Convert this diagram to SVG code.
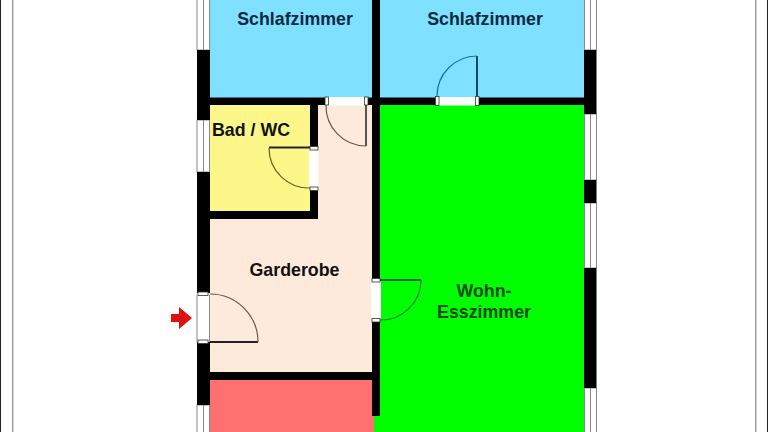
<svg xmlns="http://www.w3.org/2000/svg" width="768" height="432" viewBox="0 0 768 432">
<style>
.w{fill:#000}
.win{fill:#fff;stroke:#888;stroke-width:1}
.o{fill:#fff}
.j{fill:#fff;stroke:#333;stroke-width:.8}
.t{font-family:"Liberation Sans",Arial,sans-serif;font-weight:700;font-size:17.800px;text-anchor:middle}
.s{fill:none;stroke-width:1.2}
</style>
<rect width="768" height="432" fill="#fff"/>
<g id="frame">
<rect x="0" y="0" width="1" height="432" fill="#222"/>
<rect x="12" y="0" width="1.4" height="432" fill="#999"/>
<rect x="755" y="0" width="1.4" height="432" fill="#999"/>
<rect x="767" y="0" width="1" height="432" fill="#222"/>
</g>
<g id="rooms">
<rect x="210" y="0" width="163" height="98" fill="#80e0ff"/>
<rect x="379" y="0" width="206" height="98" fill="#80e0ff"/>
<rect x="209" y="104" width="102" height="108" fill="#fdf78a"/>
<path d="M317 104H373V373H209V218H317Z" fill="#fdeadb"/>
<rect x="209" y="379" width="166" height="53" fill="#ff7070"/>
<rect x="379" y="104" width="206" height="328" fill="#00ff00"/>
<rect x="374" y="415" width="6" height="17" fill="#00ff00"/>
</g>
<g id="windows">
<rect x="197" y="-2" width="12.500" height="52" class="win"/><line x1="203.500" y1="0" x2="203.500" y2="50" stroke="#888"/>
<rect x="197" y="120" width="12.500" height="52" class="win"/><line x1="203.500" y1="120" x2="203.500" y2="172" stroke="#888"/>
<rect x="197" y="405" width="12.500" height="30" class="win"/><line x1="203.500" y1="405" x2="203.500" y2="432" stroke="#888"/>
<rect x="584.500" y="-2" width="12" height="52" class="win"/><line x1="590.500" y1="0" x2="590.500" y2="50" stroke="#888"/>
<rect x="584.500" y="114" width="12" height="66" class="win"/><line x1="590.500" y1="114" x2="590.500" y2="180" stroke="#888"/>
<rect x="584.500" y="203" width="12" height="65" class="win"/><line x1="590.500" y1="203" x2="590.500" y2="268" stroke="#888"/>
<rect x="584.500" y="388" width="12" height="46" class="win"/><line x1="590.500" y1="388" x2="590.500" y2="432" stroke="#888"/>
</g>
<g id="walls">
<rect class="w" x="197" y="50" width="13" height="70"/>
<rect class="w" x="197" y="172" width="13" height="121"/>
<rect class="w" x="197" y="342" width="13" height="63"/>
<rect class="w" x="584" y="50" width="12.500" height="64"/>
<rect class="w" x="584" y="180" width="12.500" height="23"/>
<rect class="w" x="584" y="268" width="12.500" height="120"/>
<rect class="w" x="372" y="0" width="8" height="416"/>
<rect class="w" x="197" y="97.500" width="387" height="7.500"/>
<rect class="w" x="310" y="105" width="8" height="114"/>
<rect class="w" x="197" y="211" width="121" height="8"/>
<rect class="w" x="197" y="372" width="180" height="8"/>
</g>
<g id="door-entrance">
<rect class="o" x="197" y="295" width="13" height="47"/>
<path class="win" d="M197 295V342M209.500 295V342"/>
<rect class="j" x="198" y="292" width="10" height="3.500"/><rect class="j" x="198" y="340" width="10" height="3.500"/>
<path d="M210 342H258" stroke="#222" stroke-width="2" fill="none"/>
<path class="s" stroke="#665a50" d="M210 294A48 48 0 0 1 258 342"/>
</g>
<g id="door-bedroom-2">
<rect class="o" x="438" y="97" width="38" height="8.500"/>
<rect class="j" x="435.500" y="96.500" width="3.500" height="9"/><rect class="j" x="475.500" y="96.500" width="3.500" height="9"/>
<path d="M477 96V56" stroke="#0f4a66" stroke-width="2" fill="none"/>
<path class="s" stroke="#1d6f90" d="M437 96A40 40 0 0 1 477 56"/>
</g>
<g id="door-hall">
<rect x="327" y="97" width="38" height="8.500" class="o"/>
<rect class="j" x="325" y="97" width="3.500" height="8"/><rect class="j" x="364.500" y="97" width="3.500" height="8"/>
<path d="M366 105V146" stroke="#444" stroke-width="1.800" fill="none"/>
<path class="s" stroke="#665a50" d="M326 105A40 40 0 0 0 366 146"/>
</g>
<g id="door-bath">
<rect class="o" x="309" y="149" width="9.500" height="38"/>
<rect class="j" x="310" y="146.500" width="8" height="3.500"/><rect class="j" x="310" y="187" width="8" height="3.500"/>
<path d="M310 147.500H269" stroke="#222" stroke-width="1.800" fill="none"/>
<path class="s" stroke="#6b5f20" d="M269 148A40 40 0 0 0 310 188"/>
</g>
<g id="door-living">
<rect class="o" x="371" y="281" width="10" height="38"/>
<rect class="j" x="372" y="278.500" width="8" height="3.500"/><rect class="j" x="372" y="318.500" width="8" height="3.500"/>
<path d="M380 280H421" stroke="#063" stroke-width="1.800" fill="none"/>
<path class="s" stroke="#0a7a20" d="M421 280A40 40 0 0 1 380 320"/>
</g>
<g id="arrow">
<path d="M171 314H179V307L192 318L179 329V322H171Z" fill="#e01010"/>
</g>
<g id="labels">
<text class="t" x="295" y="24.500" fill="#0a2a40">Schlafzimmer</text>
<text class="t" x="485" y="24.500" fill="#0a2a40">Schlafzimmer</text>
<text class="t" x="251" y="136" fill="#111">Bad / WC</text>
<text class="t" x="294.500" y="276" fill="#111">Garderobe</text>
<text class="t" x="484" y="297" fill="#0a4a10">Wohn-</text>
<text class="t" x="484" y="318" fill="#0a4a10">Esszimmer</text>
</g>
</svg>
